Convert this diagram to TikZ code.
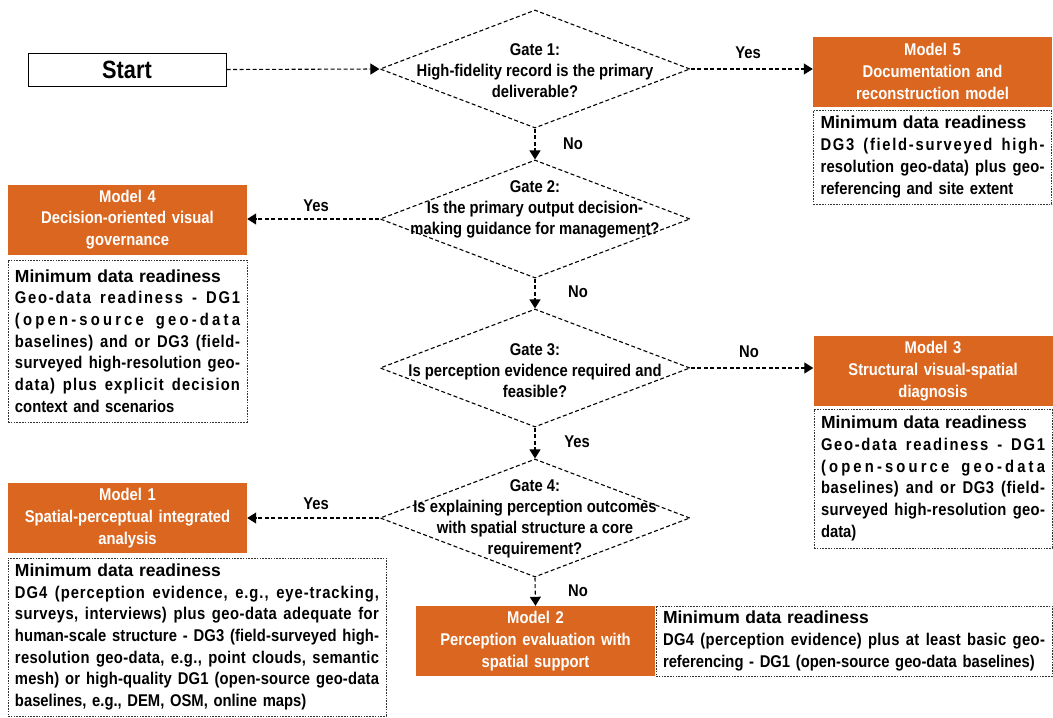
\documentclass[tikz,border=0pt]{standalone}
\usepackage{fontspec}
\setmainfont{Liberation Sans}
\newfontfamily\nrw{Liberation Sans}[FakeStretch=0.87]
\usetikzlibrary{arrows.meta,shapes.geometric}
\definecolor{modelorange}{RGB}{218,102,32}

% spread the characters of one line over the full line width
\makeatletter
\def\sprdgap{\hskip 0pt plus 1fil minus 0.4pt}
\def\sprd#1{\makebox[\hsize][s]{\sprd@first#1\relax}}
\def\sprd@first#1{#1\sprd@loop}
\def\sprd@loop#1{\ifx#1\relax\else\sprdgap#1\expandafter\sprd@loop\fi}
\makeatother

\newcommand{\readyhead}{{\rmfamily\fontsize{17.5}{21.7}\selectfont\bfseries Minimum data readiness}\par}

\tikzset{
  flow/.style={line width=1.1pt, dash pattern=on 4pt off 2.5pt,
    -{Triangle[length=9pt,width=11pt]}},
  gatebox/.style={shape=diamond, draw, line width=1.1pt,
    dash pattern=on 4pt off 2.5pt, minimum width=310pt, minimum height=118pt,
    inner sep=0pt},
  gatetext/.style={font=\nrw\bfseries\fontsize{17}{21}\selectfont, align=center,
    inner sep=0pt},
  modelbox/.style={fill=modelorange, text=white, minimum width=239pt,
    minimum height=70pt, inner sep=0pt, align=center, text width=235pt,
    font=\nrw\bfseries\fontsize{17}{21.7}\selectfont},
  ready/.style={draw=black!80, line width=0.7pt, dash pattern=on 1.6pt off 1.2pt,
    inner xsep=7pt, inner ysep=0pt, align=left,
    font=\nrw\bfseries\fontsize{17}{21.7}\selectfont},
  answer/.style={font=\nrw\bfseries\fontsize{17}{20}\selectfont, inner sep=0pt},
}

\begin{document}
\begin{tikzpicture}[x=1pt,y=-1pt]
\useasboundingbox (0,0) rectangle (1053,718);

% start
\node[draw, line width=1pt, minimum width=198pt, minimum height=33pt, inner sep=0pt,
  font=\nrw\bfseries\fontsize{25}{28}\selectfont] (start) at (127,69.5) {Start};

% decision gates
\node[gatebox] (g1) at (535,69) {};
\node[gatebox] (g2) at (535,219) {};
\node[gatebox] (g3) at (535,368) {};
\node[gatebox] (g4) at (535,518) {};

\node[gatetext] (t1) at (535,71) {Gate 1:\\High-fidelity record is the primary\\deliverable?};
\node[gatetext] (t2) at (535,209) {Gate 2:\\Is the primary output decision-\\making guidance for management?};
\node[gatetext] (t3) at (535,371) {Gate 3:\\Is perception evidence required and\\feasible?};
\node[gatetext] (t4) at (535,519) {Gate 4:\\Is explaining perception outcomes\\with spatial structure a core\\requirement?};

% models
\node[modelbox] (m5) at (932.5,71.5) {Model 5\\Documentation and\\reconstruction model};
\node[modelbox] (m4) at (127.5,219.5) {Model 4\\Decision-oriented visual\\governance};
\node[modelbox] (m3) at (933,371) {Model 3\\Structural visual-spatial\\diagnosis};
\node[modelbox] (m1) at (127.5,518) {Model 1\\Spatial-perceptual integrated\\analysis};
\node[modelbox] (m2) at (535.5,641) {Model 2\\Perception evaluation with\\spatial support};

% minimum data readiness notes
\node[ready, text width=224pt, minimum width=238pt, minimum height=94pt] (r5) at (932.5,157) {%
\readyhead
\sprd{DG3~(field-surveyed~high-}\par
\sprd{resolution~geo-data)~plus~geo-}\par
referencing and site extent};

\node[ready, text width=225pt, minimum width=239pt, minimum height=162pt] (r4) at (127.5,341) {%
\readyhead
\sprd{Geo-data~readiness~-~DG1}\par
\sprd{(open-source~geo-data}\par
\sprd{baselines)~and~or~DG3~(field-}\par
\sprd{surveyed~high-resolution~geo-}\par
\sprd{data)~plus~explicit~decision}\par
context and scenarios};

\node[ready, text width=224pt, minimum width=238pt, minimum height=139pt] (r3) at (933,478.5) {%
\readyhead
\sprd{Geo-data~readiness~-~DG1}\par
\sprd{(open-source~geo-data}\par
\sprd{baselines)~and~or~DG3~(field-}\par
\sprd{surveyed~high-resolution~geo-}\par
data)};

\node[ready, text width=364pt, minimum width=378pt, minimum height=158pt] (r1) at (197,637) {%
\readyhead
\sprd{DG4~(perception~evidence,~e.g.,~eye-tracking,}\par
\sprd{surveys,~interviews)~plus~geo-data~adequate~for}\par
\sprd{human-scale~structure~-~DG3~(field-surveyed~high-}\par
\sprd{resolution~geo-data,~e.g.,~point~clouds,~semantic}\par
\sprd{mesh)~or~high-quality~DG1~(open-source~geo-data}\par
baselines, e.g., DEM, OSM, online maps)};

\node[ready, text width=382pt, minimum width=396pt, minimum height=70pt] (r2) at (854,641) {%
\readyhead
\sprd{DG4~(perception~evidence)~plus~at~least~basic~geo-}\par
referencing - DG1 (open-source geo-data baselines)};

% connectors
\draw[flow] (start.east) -- (g1.west);
\draw[flow] (g1.east) -- (g1.east -| m5.west);
\draw[flow] (g1.south) -- (g2.north);
\draw[flow] (g2.west) -- (g2.west -| m4.east);
\draw[flow] (g2.south) -- (g3.north);
\draw[flow] (g3.east) -- (g3.east -| m3.west);
\draw[flow] (g3.south) -- (g4.north);
\draw[flow] (g4.west) -- (g4.west -| m1.east);
\draw[flow] (g4.south) -- (m2.north);

% answers
\node[answer] (a1) at (748,53) {Yes};
\node[answer] (a2) at (573,144) {No};
\node[answer] (a3) at (316,206) {Yes};
\node[answer] (a4) at (578,292) {No};
\node[answer] (a5) at (749,352) {No};
\node[answer] (a6) at (577,442) {Yes};
\node[answer] (a7) at (316,504) {Yes};
\node[answer] (a8) at (578,591) {No};
\end{tikzpicture}
\end{document}
